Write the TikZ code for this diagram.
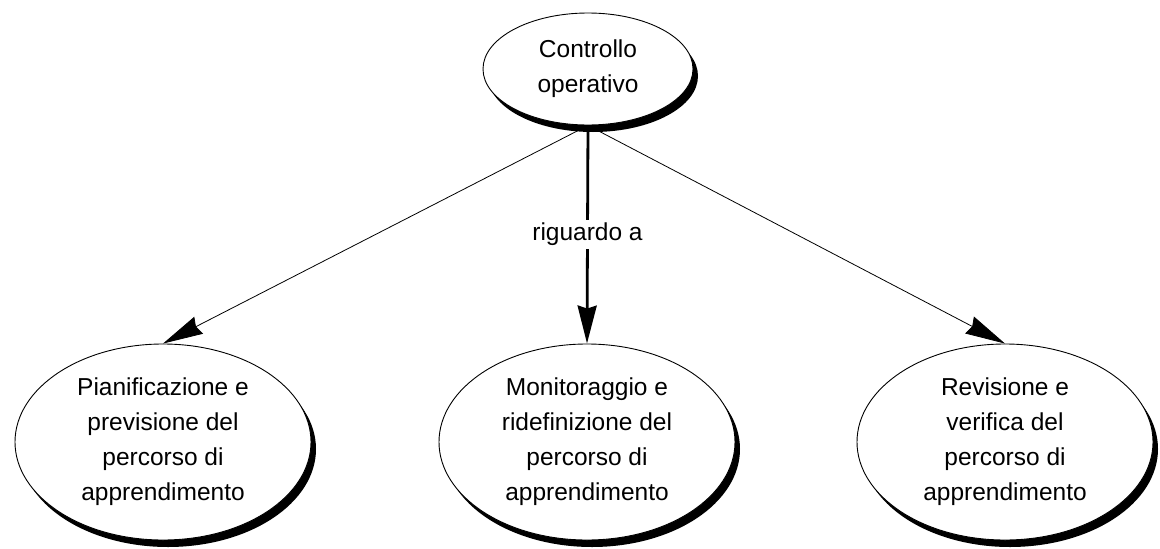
\documentclass[tikz,border=0pt]{standalone}
\usepackage{fontspec}
\setmainfont{Liberation Sans}
\usetikzlibrary{arrows.meta,shapes.geometric,shadows}
\begin{document}
\begin{tikzpicture}[x=1pt,y=-1pt,
  concept/.style={ellipse, draw=black, line width=0.9pt, fill=white, inner sep=0pt,
    align=center, font=\fontsize{24.5}{35}\selectfont,
    drop shadow={shadow xshift=5pt, shadow yshift=-7pt, fill=black, opacity=1}},
  big/.style={concept, minimum width=296pt, minimum height=196pt},
  link/.style={line width=0.8pt, -{Stealth[length=40pt,width=19pt,inset=3pt]}},
  thicklink/.style={line width=2.8pt, -{Stealth[length=38pt,width=19pt,inset=3pt]}},
  lbl/.style={fill=white, inner sep=3pt, font=\fontsize{24.5}{28}\selectfont}]
\useasboundingbox[fill=white] (0,0) rectangle (1160,549);
\node[concept, minimum width=210pt, minimum height=112pt] (top) at (588,69) {Controllo\\operativo};
\node[big] (left) at (163,442) {Pianificazione e\\previsione del\\percorso di\\apprendimento};
\node[big] (mid) at (587,442) {Monitoraggio e\\ridefinizione del\\percorso di\\apprendimento};
\node[big] (right) at (1005,442) {Revisione e\\verifica del\\percorso di\\apprendimento};
\draw[link] (top.south) -- (left.north);
\draw[link] (top.south) -- (right.north);
\draw[thicklink] (top.south) -- node[lbl] (rel) {riguardo a} (mid.north);
\end{tikzpicture}
\end{document}
